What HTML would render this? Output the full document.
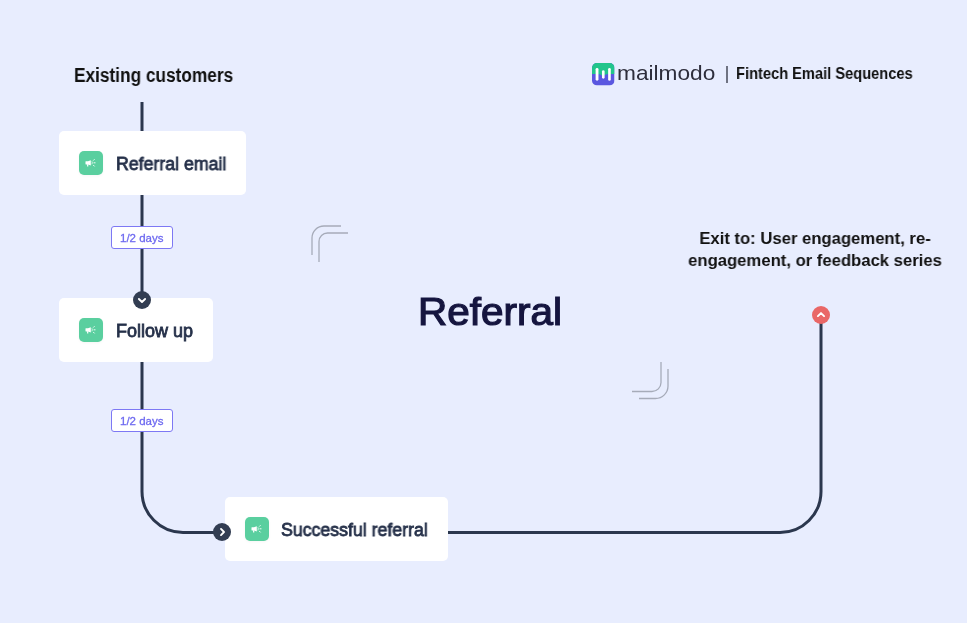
<!DOCTYPE html>
<html>
<head>
<meta charset="utf-8">
<style>
html,body{margin:0;padding:0;}
body{width:967px;height:623px;overflow:hidden;background:#E8EDFE;position:relative;font-family:"Liberation Sans",sans-serif;}
.txt,.ct,.bt{will-change:transform;}
.abs{position:absolute;}
svg.lines{position:absolute;left:0;top:0;}
.card{position:absolute;background:#fff;border-radius:5px;height:64px;}
.ico{position:absolute;left:20px;top:20px;width:24px;height:24px;border-radius:5px;background:#5ACF9F;box-shadow:0 1px 3px rgba(0,0,0,0.04);}
.ico svg{position:absolute;left:0;top:0;}
.ct{position:absolute;left:57px;top:0;white-space:nowrap;font-weight:normal;-webkit-text-stroke:0.8px #253049;font-size:18px;color:#253049;line-height:20px;transform-origin:0 0;}
.badge{position:absolute;left:111px;width:60px;height:21px;border:1px solid #7D78F4;border-radius:3px;background:#fff;}
.bt{position:absolute;left:7.5px;top:4.5px;font-size:11.5px;line-height:13px;color:#6E6AF0;-webkit-text-stroke:0.3px #6E6AF0;white-space:nowrap;}
.txt{position:absolute;white-space:nowrap;transform-origin:0 0;}
</style>
</head>
<body>
<svg class="lines" width="967" height="623" viewBox="0 0 967 623">
  <path d="M142,102 V491 A41,41 0 0 0 183,532.5 H780 A41,41 0 0 0 821,491.5 V315" fill="none" stroke="#2B374E" stroke-width="3"/>
  <!-- decorative brackets -->
  <g fill="none" stroke="#A6ABB9" stroke-width="1.3">
    <path d="M312,255 V238 A12,12 0 0 1 324,226 H341"/>
    <path d="M319,262 V241.5 A8.5,8.5 0 0 1 327.5,233 H348"/>
    <path d="M661,362 V382.5 A9,9 0 0 1 652,391.5 H632"/>
    <path d="M668,369 V386 A12.5,12.5 0 0 1 655.5,398.5 H639"/>
  </g>
</svg>

<!-- header -->
<div class="txt" style="left:74px;top:64px;font-size:19.5px;line-height:22px;font-weight:bold;color:#111;transform:scaleX(0.885)">Existing customers</div>

<!-- cards -->
<div class="card" style="left:59px;top:131px;width:187px;">
  <div class="ico"><svg width="24" height="24" viewBox="0 0 24 24"><path d="M6.9,10.2 H9 L11.8,9.3 V14.4 L9,13.4 H6.9 Q6.5,13.4 6.5,13 V10.6 Q6.5,10.2 6.9,10.2 Z" fill="#fff"/><rect x="8.1" y="13" width="1.2" height="2.6" rx="0.4" fill="#fff"/><path d="M12.9,10.3 Q13.7,11.8 12.9,13.3" fill="none" stroke="#fff" stroke-width="0.7"/><path d="M14.5,9.3 L15.3,8.5 M15,11.8 H16.1 M14.5,14.3 L15.3,15.1" fill="none" stroke="#fff" stroke-width="0.9" stroke-linecap="round"/></svg></div>
  <div class="ct" style="top:23px;left:56.5px;transform:scaleX(0.985)">Referral email</div>
</div>
<div class="card" style="left:59px;top:298px;width:154px;">
  <div class="ico"><svg width="24" height="24" viewBox="0 0 24 24"><path d="M6.9,10.2 H9 L11.8,9.3 V14.4 L9,13.4 H6.9 Q6.5,13.4 6.5,13 V10.6 Q6.5,10.2 6.9,10.2 Z" fill="#fff"/><rect x="8.1" y="13" width="1.2" height="2.6" rx="0.4" fill="#fff"/><path d="M12.9,10.3 Q13.7,11.8 12.9,13.3" fill="none" stroke="#fff" stroke-width="0.7"/><path d="M14.5,9.3 L15.3,8.5 M15,11.8 H16.1 M14.5,14.3 L15.3,15.1" fill="none" stroke="#fff" stroke-width="0.9" stroke-linecap="round"/></svg></div>
  <div class="ct" style="top:23px;left:56.5px;transform:scaleX(1.0)">Follow up</div>
</div>
<div class="card" style="left:225px;top:497px;width:223px;">
  <div class="ico"><svg width="24" height="24" viewBox="0 0 24 24"><path d="M6.9,10.2 H9 L11.8,9.3 V14.4 L9,13.4 H6.9 Q6.5,13.4 6.5,13 V10.6 Q6.5,10.2 6.9,10.2 Z" fill="#fff"/><rect x="8.1" y="13" width="1.2" height="2.6" rx="0.4" fill="#fff"/><path d="M12.9,10.3 Q13.7,11.8 12.9,13.3" fill="none" stroke="#fff" stroke-width="0.7"/><path d="M14.5,9.3 L15.3,8.5 M15,11.8 H16.1 M14.5,14.3 L15.3,15.1" fill="none" stroke="#fff" stroke-width="0.9" stroke-linecap="round"/></svg></div>
  <div class="ct" style="top:22.5px;left:56px;transform:scaleX(0.985)">Successful referral</div>
</div>

<!-- badges -->
<div class="badge" style="top:226px;"><div class="bt">1/2 days</div></div>
<div class="badge" style="top:409px;"><div class="bt">1/2 days</div></div>

<!-- circles -->
<svg class="abs" style="left:133px;top:291px" width="18" height="18" viewBox="0 0 18 18">
  <circle cx="9" cy="9" r="9" fill="#323D52"/>
  <path d="M5.9,8 L9,11 L12.1,8" fill="none" stroke="#fff" stroke-width="1.9" stroke-linecap="round" stroke-linejoin="round"/>
</svg>
<svg class="abs" style="left:213px;top:523px" width="18" height="18" viewBox="0 0 18 18">
  <circle cx="9" cy="9" r="9" fill="#323D52"/>
  <path d="M8,5.9 L11,9 L8,12.1" fill="none" stroke="#fff" stroke-width="1.9" stroke-linecap="round" stroke-linejoin="round"/>
</svg>
<svg class="abs" style="left:812px;top:306px" width="18" height="18" viewBox="0 0 18 18">
  <circle cx="9" cy="9" r="9" fill="#E96767"/>
  <path d="M5.9,10.1 L9,7.1 L12.1,10.1" fill="none" stroke="#fff" stroke-width="1.9" stroke-linecap="round" stroke-linejoin="round"/>
</svg>

<!-- exit text -->
<div class="txt" style="left:614.5px;width:400px;top:227.5px;text-align:center;transform:scaleX(0.98);transform-origin:200px 0;font-size:17px;line-height:22px;font-weight:bold;color:#111;">Exit to: User engagement, re-<br>engagement, or feedback series</div>

<!-- title -->
<div class="txt" style="left:417.5px;top:289.5px;font-size:38px;line-height:44px;font-weight:normal;-webkit-text-stroke:1.2px #15153F;transform:scaleX(1.065);color:#15153F;">Referral</div>

<!-- logo -->
<svg class="abs" style="left:592px;top:63px;width:22.5px;height:22.5px" width="23" height="23" viewBox="0 0 23 23">
  <defs><clipPath id="lc"><rect x="0" y="0" width="23" height="23" rx="5"/></clipPath></defs>
  <g clip-path="url(#lc)">
    <rect x="0" y="0" width="23" height="23" fill="#5A57E0"/>
    <path d="M0,0 H23 V11.3 C19,11.3 17,11 15,11.5 C13,12 12,13 11,13 C9.5,13 9,11.3 6,11.3 H0 Z" fill="#22C58B"/>
    <rect x="3.7" y="5" width="2.9" height="13.1" rx="1.45" fill="#fff"/>
    <rect x="10.2" y="7.4" width="2.7" height="8.6" rx="1.35" fill="#fff"/>
    <rect x="16.5" y="5" width="2.7" height="13.1" rx="1.35" fill="#fff"/>
  </g>
</svg>
<div class="txt" style="left:617.2px;top:61px;font-size:21px;line-height:24px;color:#2E2E3C;transform:scaleX(1.08);">mailmodo</div>
<div class="abs" style="left:726px;top:66px;width:2px;height:17px;background:#6F7382;"></div>
<div class="txt" style="left:736px;top:63.5px;font-size:16.2px;line-height:19px;font-weight:bold;color:#111;transform:scaleX(0.905)">Fintech Email Sequences</div>

</body>
</html>
